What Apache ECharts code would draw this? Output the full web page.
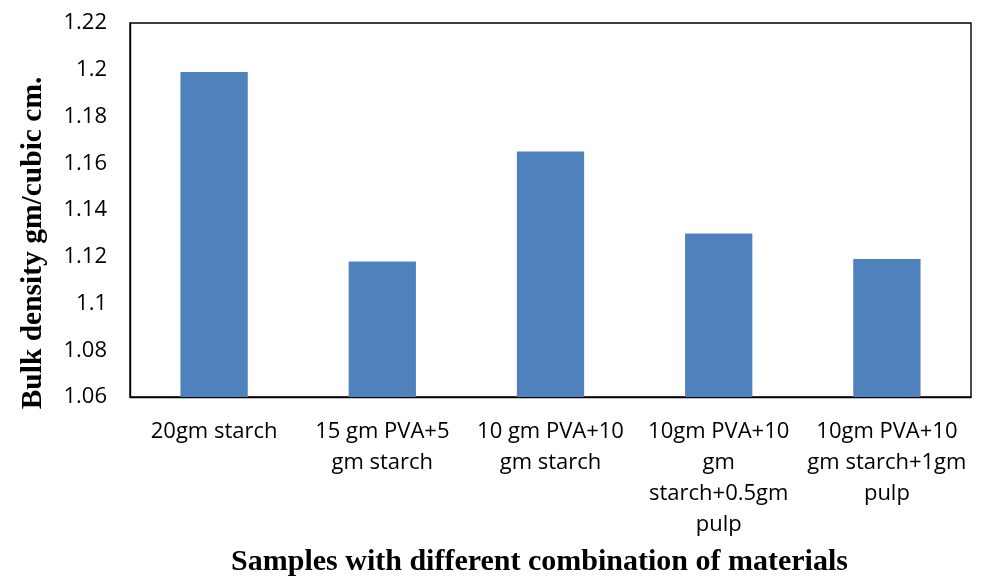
<!DOCTYPE html>
<html>
<head>
<meta charset="utf-8">
<script src="https://cdn.jsdelivr.net/npm/echarts@6/dist/echarts.min.js"></script>
<style>html,body{margin:0;padding:0;background:#fff;}#c{width:981px;height:576px;}</style>
</head>
<body>
<div id="c"></div>
<script>
var categories = [
  "20gm starch",
  "15 gm PVA+5\ngm starch",
  "10 gm PVA+10\ngm starch",
  "10gm PVA+10\ngm\nstarch+0.5gm\npulp",
  "10gm PVA+10\ngm starch+1gm\npulp"
];
var bulkDensity = [1.199, 1.118, 1.165, 1.130, 1.119];
var yMin = 1.06, yMax = 1.22, yStep = 0.02;
var xTitle = "Samples with different combination of materials";
var yTitle = "Bulk density gm/cubic cm.";

var chart = echarts.init(document.getElementById('c'), null, {renderer: 'canvas'});
chart.setOption({
  animation: false,
  backgroundColor: '#fff',
  grid: {left: 130, right: 10, top: 23, bottom: 179, show: true, borderColor: '#000', borderWidth: 1.4,
    containLabel: false, outerBoundsMode: 'none'},
  xAxis: {
    type: 'category',
    data: categories,
    axisLine: {lineStyle: {color: '#000', width: 1.4}},
    axisTick: {show: false},
    axisLabel: {interval: 0, margin: 19, color: '#000', fontFamily: 'Open Sans', fontSize: 22, lineHeight: 31, align: 'center'},
    name: xTitle,
    nameLocation: 'middle',
    nameGap: 150,
    nameTextStyle: {fontFamily: 'Liberation Serif', fontWeight: 'bold', fontSize: 30, color: '#000', padding: [0, 22, 0, 0]}
  },
  yAxis: {
    type: 'value',
    min: yMin, max: yMax, interval: yStep,
    axisLine: {show: true, lineStyle: {color: '#000', width: 1.4}},
    axisTick: {show: false},
    splitLine: {show: false},
    axisLabel: {margin: 23, color: '#000', fontFamily: 'Open Sans', fontSize: 22,
      formatter: function (v) { return String(parseFloat(v.toFixed(2))); }},
    name: yTitle,
    nameLocation: 'middle',
    nameGap: 82,
    nameTextStyle: {fontFamily: 'Liberation Serif', fontWeight: 'bold', fontSize: 29.5, color: '#000', padding: [0, 66, 0, 0]}
  },
  series: [{
    type: 'bar',
    data: bulkDensity,
    barCategoryGap: '60%',
    itemStyle: {color: '#4F81BD'}
  }]
});
</script>
</body>
</html>
